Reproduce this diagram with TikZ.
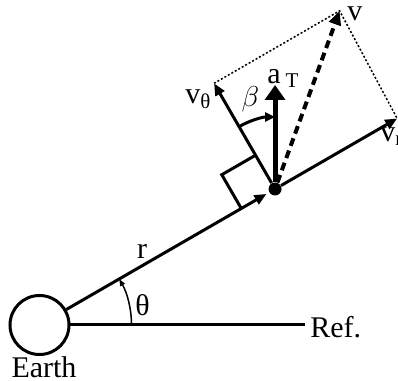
\documentclass[tikz,border=0pt]{standalone}
\usepackage{fontspec}
\setmainfont{Liberation Serif}
\usepackage{tikz}
\usetikzlibrary{calc,positioning,arrows.meta}

\begin{document}
\begin{tikzpicture}[x=0.5pt,y=0.5pt,
  font=\fontsize{15}{18}\selectfont,
  vec/.style={line width=1.5pt, -{Triangle[length=6pt,width=5pt]}},
  comp/.style={line width=0.75pt, dash pattern=on 1pt off 1pt},
  lbl/.style={inner sep=0pt}]
% Earth-centred polar frame, one unit = one pixel of the sketch.
% Radial line at theta = 30 deg, craft at r = 272. The velocity
% splits into v_r (along r) and v_theta (normal to r); the thrust
% a_T is tilted from v_theta by the steering angle beta.
\def\th{30}    % polar angle of the craft
\def\rs{272}   % radius of the craft
\def\Lt{122}   % length of v_theta
\def\Lr{141}   % length of v_r
\def\sq{39}    % right-angle mark
\useasboundingbox (-39.5,-56) rectangle (358.5,325);
% Earth and reference direction
\node[circle, draw, line width=1.5pt, minimum size=29.5pt, inner sep=0pt] (earth) at (0,0) {};
\node[lbl, below=0pt of earth, xshift=2.25pt] (earthlab) {Earth};
\coordinate (refend) at (265.5,0);
\draw[line width=1.5pt] (earth) -- (refend);
\node[lbl, right=2.5pt of refend, yshift=-0.85pt] (reflab) {Ref.};
% craft and radius vector
\node[circle, fill, inner sep=0pt, minimum size=6.5pt] (sat) at (\th:\rs) {};
\draw[vec, shorten >=1.5pt] (earth) -- (sat);
\node[lbl] (rlab) at (102.5,73.5) {r};
\draw[line width=0.75pt, -{Triangle[length=3.5pt,width=2.5pt]}]
  (92,0) arc[start angle=0, end angle=\th, radius=92];
\node[lbl] (thlab) at (103,20) {θ};
% velocity components
\coordinate (vt) at ($(sat)+(\th+90:\Lt)$);
\coordinate (vr) at ($(sat)+(\th:\Lr)$);
\coordinate (vtip) at ($(vt)+(\th:145)$);
\draw[vec] (sat) -- (vt);
\draw[vec] (sat) -- (vr);
\draw[comp] (vt) -- (vtip) -- (vr);
\draw[line width=2pt, dash pattern=on 4pt off 2.5pt, -{Triangle[length=7pt,width=6pt]}] (sat) -- (vtip);
\node[lbl] (vtlab) at (159,226) {v\textsubscript{θ}};
\node[lbl] (vlab) at (315.5,311.5) {v};
\node[lbl, anchor=base west] (vrlab) at (340.5,184) {v\textsubscript{r}};
% right angle between r and v_theta
\draw[line width=1.5pt] ($(sat)+(\th+180:\sq)$) -- ++(\th+90:\sq) -- ++(\th:\sq);
% thrust and steering angle
\coordinate (at) at ($(sat)+(0,104)$);
\draw[line width=2.5pt, -{Triangle[length=7.5pt,width=10pt]}] (sat) -- (at);
\node[lbl, anchor=base west] (atlab) at (227.5,242) {a\hspace{2.5pt}\textsubscript{T}};
\draw[line width=1.5pt, -{Triangle[length=5pt,width=4.5pt]}]
  ($(sat)+(\th+90:72)$) arc[start angle=\th+90, end angle=90, radius=72];
\node[lbl] (blab) at (211,226) {$\beta$};
\end{tikzpicture}
\end{document}
